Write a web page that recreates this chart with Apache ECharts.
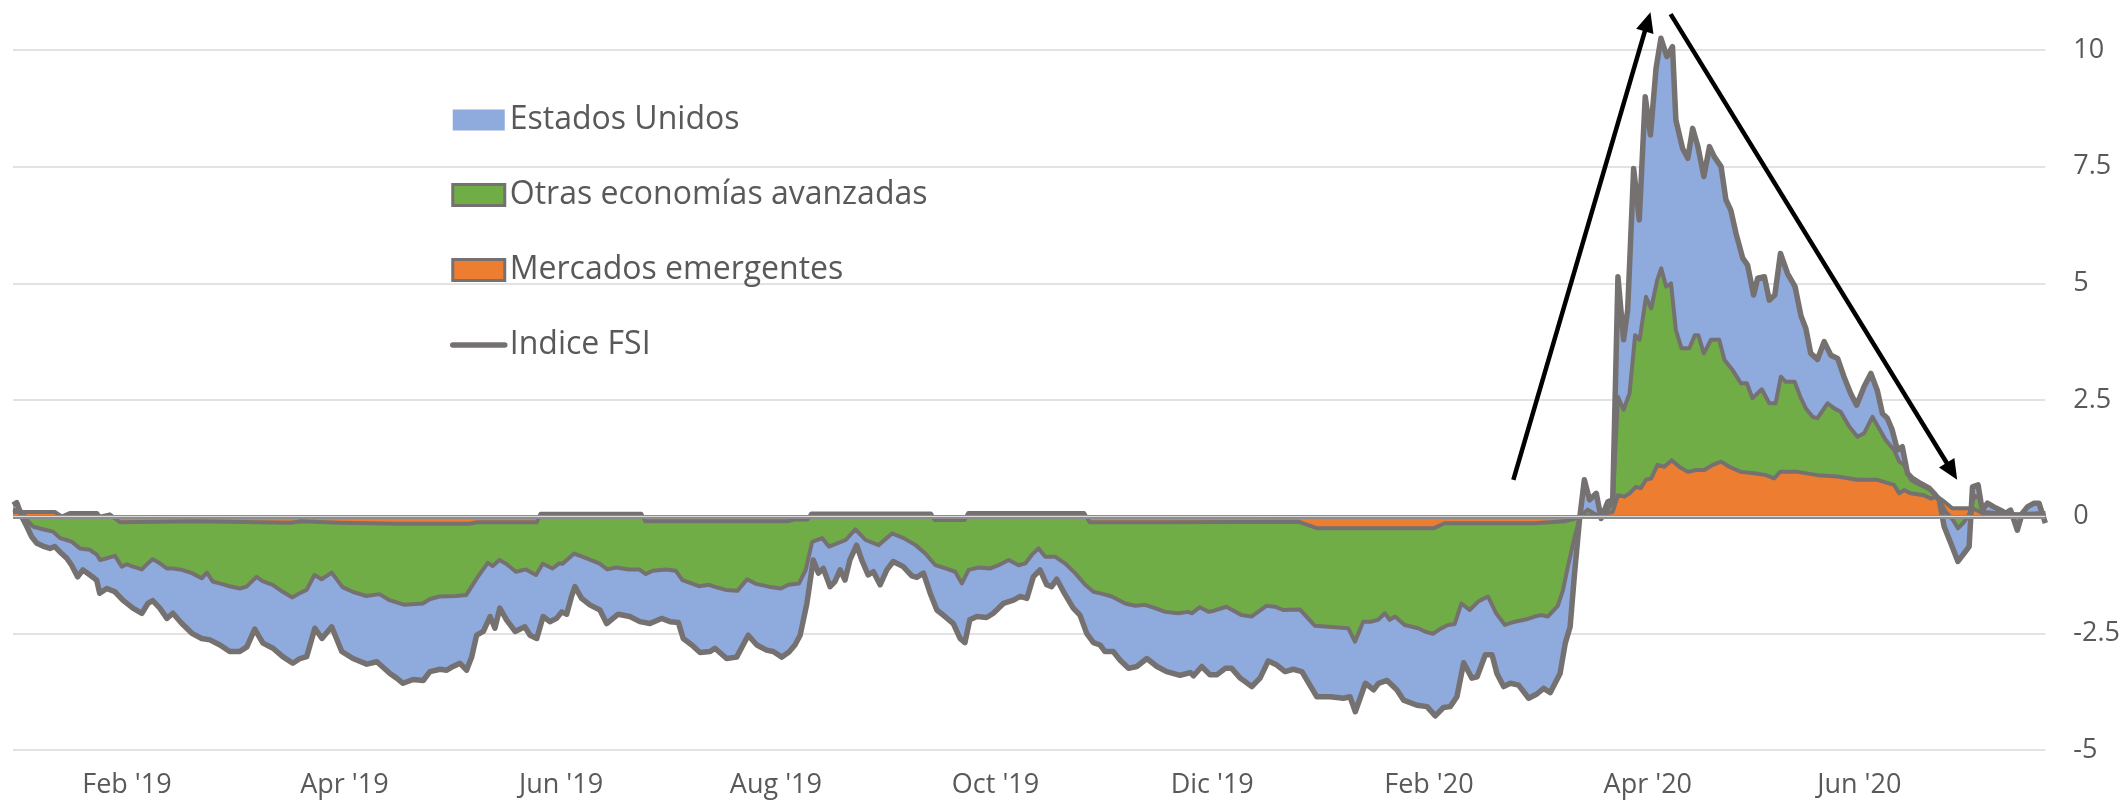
<!DOCTYPE html>
<html>
<head>
<meta charset="utf-8">
<script src="https://cdn.jsdelivr.net/npm/echarts@6/dist/echarts.min.js"></script>
<style>
  html, body { margin: 0; padding: 0; background: #ffffff; }
  #chart { width: 2123px; height: 804px; }
</style>
</head>
<body>
<div id="chart"></div>
<script>
// eje x: posicion en dias aproximados desde el inicio de la serie
const etiquetasX = ["Feb '19", "Apr '19", "Jun '19", "Aug '19", "Oct '19", "Dic '19", "Feb '20", "Apr '20", "Jun '20"];
const posEtiquetasX = [31.3, 89.5, 147.5, 205.0, 263.8, 321.8, 379.8, 438.4, 495.0];

// Indice FSI (borde exterior)
const diasFSI = [
  0.8, 1.8, 3.4, 4.5, 5.8, 7.2, 8.8, 10.7, 12.0, 13.3,
  15.2, 16.5, 18.1, 19.5, 21.4, 23.2, 24.0, 25.9, 28.1, 30.2,
  32.9, 35.3, 36.9, 38.2, 40.1, 42.0, 43.6, 46.0, 48.7, 51.3,
  53.5, 56.2, 58.8, 61.5, 63.4, 65.5, 67.7, 70.4, 73.0, 75.7,
  77.6, 79.4, 81.6, 83.5, 86.1, 88.8, 91.8, 95.5, 98.2, 101.7,
  103.5, 105.2, 107.9, 110.6, 112.4, 115.1, 116.9, 118.6, 120.4, 122.2,
  123.6, 124.9, 126.7, 128.5, 129.8, 131.1, 132.9, 135.2, 137.8, 139.2,
  141.0, 142.7, 144.5, 146.3, 147.7, 149.0, 150.3, 151.2, 153.0, 155.2,
  157.9, 159.7, 162.8, 165.9, 168.6, 171.3, 174.4, 176.7, 178.9, 180.2,
  182.5, 184.7, 187.4, 188.7, 191.8, 194.5, 197.6, 199.9, 202.5, 204.3,
  206.6, 208.5,
  210.1, 211.5, 213.3, 215.0, 216.4, 217.7, 219.5, 220.8, 222.2, 223.5,
  224.8, 226.6, 228.0, 229.7, 231.1, 232.9, 234.7, 236.4, 239.1, 241.4,
  242.7, 244.5, 246.3, 248.1, 249.8, 252.5, 254.3, 255.6, 256.9, 258.8,
  261.4, 263.2, 265.9, 268.6, 270.4, 272.2, 273.9, 275.7, 277.5, 278.8,
  280.2, 282.0, 284.6, 286.4, 288.2, 290.0, 291.8, 293.1, 295.3, 297.1,
  299.4, 301.6, 304.3, 307.0, 309.6,
  313.2, 315.9, 316.8, 319.0, 321.2, 323.0, 325.3, 327.0, 329.3, 332.4,
  334.6, 336.8, 339.1, 341.3, 343.5, 345.8, 349.8, 353.4, 356.9, 358.7,
  360.1, 362.8, 365.0, 366.3, 368.6, 371.2, 373.0, 376.6, 379.3, 381.5,
  383.7, 385.5, 387.3, 389.1, 391.3, 392.7, 394.9, 396.7, 398.0, 399.8,
  401.6, 403.8, 406.5, 408.7, 410.5, 412.3, 414.9, 416.3, 417.6, 418.8,
  420.1, 421.4, 422.8, 424.6, 425.9, 427.7, 429.0, 430.4, 431.9, 433.0,
  434.6, 436.1, 437.7, 439.1, 440.6, 441.9, 443.5, 445.0, 445.9, 447.7,
  449.1, 450.4, 451.8, 453.4, 454.9, 456.2, 458.0, 459.3, 460.6, 462.0,
  463.8, 465.1, 466.7, 467.8, 469.6, 470.9, 472.4, 473.9, 475.8, 477.8,
  479.4, 480.7, 482.0, 483.8, 485.6, 487.4, 489.2, 490.9, 492.7, 494.3,
  496.3, 498.1, 499.8, 501.2, 502.5, 503.8, 505.2, 506.5, 507.9, 509.2,
  511.4, 513.7, 515.0, 516.4, 517.7, 519.5, 521.4, 523.0, 524.4, 525.3,
  526.8, 527.9, 529.3, 531.0, 532.8, 534.2, 535.5, 537.3, 538.6, 540.0,
  541.8, 543.1, 544.8
];
const fsi = [
  0.25, 0.3, -0.04, -0.21, -0.43, -0.57, -0.63, -0.68, -0.64, -0.75,
  -0.89, -1.04, -1.29, -1.14, -1.25, -1.36, -1.64, -1.54, -1.61, -1.79,
  -1.96, -2.07, -1.86, -1.8, -1.96, -2.18, -2.07, -2.29, -2.5, -2.61,
  -2.64, -2.75, -2.89, -2.89, -2.79, -2.41, -2.71, -2.82, -3.0, -3.14,
  -3.04, -3.0, -2.39, -2.61, -2.36, -2.89, -3.04, -3.16, -3.11, -3.36,
  -3.46, -3.57, -3.49, -3.51, -3.32, -3.27, -3.29, -3.21, -3.14, -3.29,
  -3.0, -2.54, -2.46, -2.14, -2.39, -1.96, -2.21, -2.46, -2.36, -2.54,
  -2.61, -2.14, -2.25, -2.18, -2.04, -2.09, -1.71, -1.5, -1.75, -1.89,
  -2.0, -2.29, -2.09, -2.14, -2.25, -2.29, -2.18, -2.25, -2.27, -2.61,
  -2.75, -2.91, -2.89, -2.82, -3.04, -3.01, -2.54, -2.75, -2.86, -2.89,
  -3.01, -2.9,
  -2.75, -2.54, -1.86, -0.93, -1.21, -1.11, -1.5, -1.39, -1.14, -1.36,
  -0.93, -0.61, -0.93, -1.25, -1.18, -1.46, -1.14, -0.96, -1.07, -1.27,
  -1.3, -1.21, -1.64, -2.0, -2.11, -2.29, -2.61, -2.7, -2.21, -2.14,
  -2.16, -2.07, -1.86, -1.79, -1.71, -1.75, -1.29, -1.14, -1.46, -1.5,
  -1.34, -1.61, -1.96, -2.11, -2.5, -2.7, -2.75, -2.89, -2.89, -3.07,
  -3.25, -3.21, -3.04, -3.21, -3.32,
  -3.4, -3.34, -3.41, -3.21, -3.39, -3.39, -3.25, -3.25, -3.46, -3.64,
  -3.46, -3.09, -3.18, -3.32, -3.27, -3.32, -3.86, -3.86, -3.89, -3.86,
  -4.18, -3.57, -3.71, -3.57, -3.51, -3.71, -3.93, -4.04, -4.07, -4.27,
  -4.09, -4.07, -3.86, -3.13, -3.46, -3.43, -2.96, -2.96, -3.36, -3.64,
  -3.57, -3.61, -3.89, -3.8, -3.68, -3.77, -3.36, -2.71, -2.36, -1.2,
  -0.07, 0.79, 0.36, 0.5, -0.04, 0.32, 0.36, 5.14, 3.79, 4.43,
  7.46, 6.36, 9.0, 8.18, 9.61, 10.25, 9.86, 10.07, 8.5, 7.89,
  7.68, 8.32, 7.93, 7.29, 7.93, 7.71, 7.5, 6.79, 6.57, 6.07,
  5.54, 5.39, 4.75, 5.11, 5.14, 4.64, 4.75, 5.64, 5.21, 4.93,
  4.3, 4.03, 3.5, 3.37, 3.75, 3.46, 3.39, 3.0, 2.64, 2.39,
  2.79, 3.07, 2.71, 2.21, 2.11, 1.86, 1.43, 1.5, 0.93, 0.82,
  0.71, 0.61, 0.5, 0.36, -0.21, -0.57, -0.96, -0.79, -0.64, 0.64,
  0.68, 0.14, 0.29, 0.21, 0.14, 0.07, 0.14, -0.29, 0.07, 0.21,
  0.29, 0.29, -0.14
];

// nivel acumulado hasta "Otras economias avanzadas" (borde verde)
const diasOtras = [
  0.8, 3.4, 4.5, 6.1, 8.8, 11.5, 13.4, 15.2, 16.6, 18.7,
  21.4, 23.3, 24.1, 25.9, 28.1, 29.9, 31.3, 32.9, 35.3, 36.9,
  38.2, 40.1, 42.0, 43.6, 46.0, 48.7, 51.3, 52.7, 54.3, 56.1,
  58.8, 61.5, 63.3, 66.0, 67.6, 70.3, 73.0, 75.6, 77.5, 79.4,
  81.5, 83.4, 86.1, 89.0, 91.7, 95.4, 98.9, 101.6, 105.6, 110.5,
  112.3, 114.9, 119.4, 122.1, 125.2, 127.9, 129.2, 131.0, 132.8, 135.4,
  138.1, 140.8, 142.6, 145.2, 147.0, 147.9, 151.0, 154.2, 157.7, 159.9,
  162.2, 165.7, 168.4, 170.2, 172.0, 175.5, 178.2, 180.0, 184.4, 187.1,
  188.9, 191.6, 194.7, 197.3, 199.6, 203.1, 206.3, 208.4, 211.2, 213.0,
  214.7, 217.4, 219.2, 221.4, 223.7, 226.3, 229.0, 232.5, 236.1, 239.2,
  242.4, 245.0, 247.7, 250.4, 253.0, 254.8, 256.6, 259.3, 262.4, 264.6,
  267.3, 270.0, 271.8, 273.5, 275.3, 277.1, 279.8, 282.4, 285.1, 287.8,
  290.0, 292.7, 294.9, 298.5, 301.2, 303.8, 306.5, 309.2, 312.7, 315.4,
  316.3, 318.5, 320.8, 322.5, 325.6, 329.7, 332.3, 336.3, 338.6, 340.8,
  345.3, 349.3, 354.6, 358.2, 360.0, 362.2, 364.4, 366.2, 368.0, 369.3,
  370.7, 373.3, 376.9, 378.7, 380.9, 382.7, 384.9, 386.7, 388.5, 390.7,
  393.0, 395.6, 397.8, 400.1, 402.8, 405.9, 408.1, 409.9, 411.6, 414.3,
  415.7, 417.0, 418.6, 420.2, 422.3, 425.9, 429.0, 430.4, 431.9, 433.5,
  435.0, 436.2, 437.9, 439.3, 440.9, 442.0, 443.3, 444.6, 445.9, 447.4,
  449.5, 451.0, 451.9, 453.4, 455.3, 457.5, 458.9, 461.1, 463.3, 464.9,
  466.4, 468.9, 470.9, 472.6, 474.0, 475.3, 477.7, 479.3, 480.7, 482.5,
  483.8, 486.5, 488.3, 490.0, 492.3, 494.5, 496.3, 498.5, 500.3, 502.1,
  504.3, 505.7, 507.0, 508.8, 510.5, 512.3, 514.1, 515.9, 518.1, 519.9,
  521.4, 523.0, 524.4, 525.8, 527.1, 528.2, 531.9, 537.3, 544.8
];
const otras = [
  0.15, 0.1, -0.07, -0.21, -0.27, -0.32, -0.46, -0.5, -0.54, -0.68,
  -0.71, -0.82, -0.93, -0.89, -0.84, -1.07, -1.02, -1.07, -1.13, -1.0,
  -0.91, -1.0, -1.11, -1.11, -1.14, -1.21, -1.32, -1.2, -1.39, -1.43,
  -1.49, -1.54, -1.5, -1.29, -1.38, -1.46, -1.61, -1.73, -1.64, -1.57,
  -1.25, -1.34, -1.2, -1.51, -1.61, -1.7, -1.66, -1.79, -1.89, -1.86,
  -1.77, -1.71, -1.7, -1.68, -1.29, -0.99, -1.06, -0.93, -1.01, -1.18,
  -1.13, -1.25, -1.01, -1.11, -1.0, -1.01, -0.79, -0.89, -1.0, -1.13,
  -1.09, -1.13, -1.13, -1.23, -1.16, -1.13, -1.16, -1.36, -1.49, -1.46,
  -1.51, -1.57, -1.59, -1.34, -1.44, -1.5, -1.54, -1.46, -1.43, -1.14,
  -0.54, -0.46, -0.64, -0.57, -0.5, -0.27, -0.5, -0.61, -0.36, -0.46,
  -0.61, -0.79, -1.04, -1.11, -1.18, -1.43, -1.14, -1.09, -1.11, -1.04,
  -0.93, -1.04, -1.0, -0.82, -0.68, -0.86, -0.86, -1.0, -1.21, -1.46,
  -1.61, -1.66, -1.71, -1.86, -1.91, -1.89, -1.96, -2.04, -2.07, -2.04,
  -2.07, -1.94, -2.04, -2.01, -1.93, -2.11, -2.14, -1.91, -1.93, -2.0,
  -1.99, -2.34, -2.37, -2.39, -2.68, -2.25, -2.25, -2.21, -2.07, -2.21,
  -2.14, -2.32, -2.39, -2.46, -2.51, -2.41, -2.32, -2.3, -1.86, -2.0,
  -1.82, -1.71, -2.07, -2.32, -2.25, -2.2, -2.14, -2.11, -2.14, -1.91,
  -1.57, -1.07, -0.5, 0, 0.15, -0.02, 0.3, 2.57, 2.29, 2.64,
  3.89, 3.79, 4.71, 4.46, 5.07, 5.32, 4.93, 5.0, 4.0, 3.61,
  3.61, 3.89, 3.89, 3.5, 3.79, 3.79, 3.36, 3.14, 2.86, 2.86,
  2.54, 2.73, 2.43, 2.43, 3.0, 2.89, 2.89, 2.55, 2.32, 2.14,
  2.11, 2.43, 2.32, 2.25, 1.93, 1.71, 1.79, 2.14, 1.89, 1.64,
  1.43, 1.18, 1.11, 0.79, 0.71, 0.64, 0.57, 0.43, 0.1, -0.05,
  -0.25, -0.12, 0.05, 0.45, 0.4, 0.1, 0.08, 0.05, 0.08
];

// Mercados emergentes (borde naranja)
const diasEmergentes = [
  0.8, 12.0, 13.9, 16.0, 23.3, 24.0, 26.7, 29.4, 50, 75,
  78, 88, 104, 123, 125, 141, 142, 169, 170, 208,
  210, 213.5, 214.5, 246.5, 247.5, 255.5, 256.5, 287.5, 289, 310,
  345, 350, 381, 384, 408, 416, 418.5, 420.2, 425.9, 429.0,
  430.4, 432.1, 433.5, 435.2, 436.5, 437.9, 439.3, 441.0, 442.8, 444.8,
  446.8, 449.1, 451.3, 453.5, 455.8, 458.0, 460.2, 463.3, 466.9, 470.0,
  472.2, 473.8, 478.5, 483.8, 489.2, 494.5, 499.8, 504.3, 505.7, 507.0,
  508.8, 512.3, 514.1, 515.9, 518.1, 519.9, 525.3, 527.9, 531.9, 540.0,
  544.8
];
const emergentes = [
  0.1, 0.1, 0.0, 0.08, 0.08, 0.0, 0.05, -0.12, -0.1, -0.13,
  -0.1, -0.13, -0.15, -0.15, -0.12, -0.12, 0.06, 0.06, -0.1, -0.1,
  -0.06, -0.06, 0.07, 0.07, -0.07, -0.07, 0.08, 0.08, -0.12, -0.12,
  -0.11, -0.25, -0.25, -0.14, -0.14, -0.1, -0.05, 0, 0.05, 0.1,
  0.46, 0.43, 0.5, 0.64, 0.61, 0.79, 0.82, 1.11, 1.07, 1.21,
  1.07, 0.96, 1.0, 1.0, 1.11, 1.18, 1.07, 0.96, 0.93, 0.89,
  0.82, 0.96, 0.96, 0.89, 0.86, 0.79, 0.79, 0.68, 0.5, 0.57,
  0.5, 0.46, 0.39, 0.43, 0.3, 0.18, 0.18, 0.08, 0.04, 0.04,
  0.08
];

// flechas de anotacion: [posicion x, valor] de inicio y de punta
const flechas = [
  [[402.4, 0.79], [439.1, 10.81]],
  [[444.5, 10.77], [521.2, 0.79]]
];

const azul = '#8FAADC';
const verde = '#70AD47';
const naranja = '#ED7D31';
const gris = '#767171';
const textoGris = '#595959';

const pares = (xs, ys) => xs.map((d, i) => [d, ys[i]]);

var myChart = echarts.init(document.getElementById('chart'));

option = {
    animation: false,
    textStyle: { fontFamily: 'Open Sans' },
    grid: { left: 13, right: 76, top: 50, bottom: 54 },
    legend: {
        orient: 'vertical',
        left: 445,
        top: 99,
        itemWidth: 52,
        itemHeight: 21,
        itemGap: 43,
        selectedMode: false,
        textStyle: { fontSize: 32, color: textoGris, fontFamily: 'Open Sans' },
        data: [
            { name: 'Estados Unidos', icon: 'rect', itemStyle: { color: azul, borderWidth: 0 } },
            { name: 'Otras economías avanzadas', icon: 'rect', itemStyle: { color: verde, borderColor: gris, borderWidth: 3 } },
            { name: 'Mercados emergentes', icon: 'rect', itemStyle: { color: naranja, borderColor: gris, borderWidth: 3 } },
            { name: 'Indice FSI', itemStyle: { opacity: 0 }, lineStyle: { color: gris, width: 5.5, cap: 'round' } }
        ]
    },
    xAxis: {
        type: 'value',
        min: 0.8,
        max: 544.8,
        axisLine: { show: false },
        axisTick: { show: false },
        splitLine: { show: false },
        axisLabel: {
            customValues: posEtiquetasX,
            formatter: (v) => etiquetasX[posEtiquetasX.indexOf(v)],
            color: textoGris,
            fontSize: 27,
            margin: 22
        }
    },
    yAxis: {
        type: 'value',
        position: 'right',
        min: -5,
        max: 10,
        interval: 2.5,
        axisLine: { show: false },
        axisTick: { show: false },
        axisLabel: { color: textoGris, fontSize: 27, margin: 28 },
        splitLine: { lineStyle: { color: '#d9d9d9', width: 1.5 } }
    },
    series: [{
        name: 'Estados Unidos',
        type: 'line',
        clip: false,
        data: pares(diasFSI, fsi),
        symbol: 'none',
        itemStyle: { color: azul },
        lineStyle: { width: 0 },
        areaStyle: { color: azul, opacity: 1 }
    }, {
        name: 'Otras economías avanzadas',
        type: 'line',
        clip: false,
        data: pares(diasOtras, otras),
        symbol: 'none',
        itemStyle: { color: verde },
        lineStyle: { color: gris, width: 4, join: 'round' },
        areaStyle: { color: verde, opacity: 1 }
    }, {
        name: 'Mercados emergentes',
        type: 'line',
        clip: false,
        data: pares(diasEmergentes, emergentes),
        symbol: 'none',
        itemStyle: { color: naranja },
        lineStyle: { color: gris, width: 4, join: 'round' },
        areaStyle: { color: naranja, opacity: 1 },
        markLine: {
            silent: true,
            symbol: 'none',
            label: { show: false },
            data: [
                { yAxis: 0, lineStyle: { color: '#8c8c8c', width: 4, type: 'solid' } },
                { yAxis: 0, lineStyle: { color: '#d9d9d9', width: 1.2, type: 'solid' } }
            ]
        }
    }, {
        name: 'Indice FSI',
        type: 'line',
        clip: false,
        data: pares(diasFSI, fsi),
        symbol: 'none',
        itemStyle: { color: gris },
        lineStyle: { color: gris, width: 5.5, join: 'round' }
    }]
};

myChart.setOption(option);

// flechas negras dibujadas en coordenadas de datos
const grafico = [];
flechas.forEach((f) => {
    const a = myChart.convertToPixel({ gridIndex: 0 }, f[0]);
    const b = myChart.convertToPixel({ gridIndex: 0 }, f[1]);
    const dx = b[0] - a[0], dy = b[1] - a[1];
    const len = Math.hypot(dx, dy);
    const ux = dx / len, uy = dy / len;
    const largo = 20, ancho = 9;
    const base = [b[0] - ux * largo, b[1] - uy * largo];
    grafico.push({
        type: 'line', z: 100, silent: true,
        shape: { x1: a[0], y1: a[1], x2: base[0] + ux * 2, y2: base[1] + uy * 2 },
        style: { stroke: '#000000', lineWidth: 4.5 }
    });
    grafico.push({
        type: 'polygon', z: 100, silent: true,
        shape: { points: [b, [base[0] - uy * ancho, base[1] + ux * ancho], [base[0] + uy * ancho, base[1] - ux * ancho]] },
        style: { fill: '#000000' }
    });
});
myChart.setOption({ graphic: grafico });
</script>
</body>
</html>
